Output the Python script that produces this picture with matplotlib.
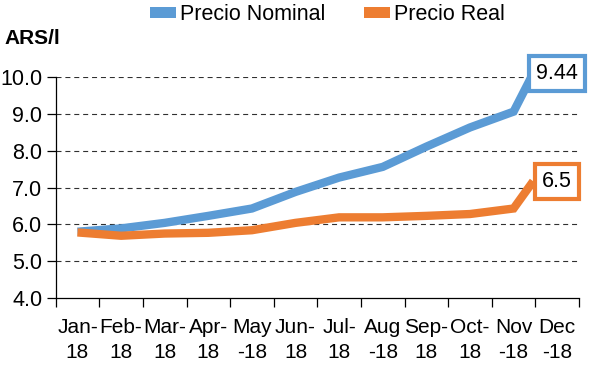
import numpy as np
import matplotlib
matplotlib.use("Agg")
import matplotlib.pyplot as plt
from matplotlib.patches import Patch

# ---- data ----
months_top = ["Jan-", "Feb-", "Mar-", "Apr-", "May", "Jun-", "Jul-", "Aug", "Sep-", "Oct-", "Nov", "Dec"]
months_bot = ["18", "18", "18", "18", "-18", "18", "18", "-18", "18", "18", "-18", "-18"]
nominal = [5.80, 5.89, 6.04, 6.23, 6.43, 6.88, 7.27, 7.56, 8.11, 8.63, 9.06, 10.10]
real = [5.78, 5.69, 5.75, 5.77, 5.84, 6.04, 6.19, 6.19, 6.23, 6.28, 6.43, 7.17]
# horizontal position of each point in category units (last point sits left of the Dec centre)
point_pos = [0, 1, 2, 3, 4, 5, 6, 7, 8, 9, 10, 10.45]
label_texts = ["9.44", "6.5"]
series_names = ["Precio Nominal", "Precio Real"]
y_ticks = [4.0, 5.0, 6.0, 7.0, 8.0, 9.0, 10.0]
unit_label = "ARS/l"

BLUE = "#5B9BD5"
ORANGE = "#ED7D31"
FONT = "Liberation Sans"

fig = plt.figure(figsize=(6.0, 3.82), dpi=100)
ax = fig.add_axes([0.0928, 0.2199, 0.8722, 0.5785])

n = len(months_top)
ax.set_xlim(-0.5, n - 0.5)
ax.set_ylim(4.0, 10.0)

ax.plot(point_pos, nominal, color=BLUE, lw=6.0, solid_capstyle="butt",
        solid_joinstyle="miter", zorder=3, clip_on=False)
ax.plot(point_pos, real, color=ORANGE, lw=6.0, solid_capstyle="butt",
        solid_joinstyle="miter", zorder=4, clip_on=False)

# data labels (boxed, to the right of the last points)
for vals, txt, col in [(nominal, label_texts[0], BLUE), (real, label_texts[1], ORANGE)]:
    ax.annotate(txt, xy=(n - 1, vals[-1]), xycoords="data", annotation_clip=False,
                ha="center", va="center", fontsize=15.5, family=FONT, color="black",
                bbox=dict(boxstyle="square,pad=0.32", fc="white", ec=col, lw=3.0),
                zorder=6)

# grid
for yv in y_ticks[1:]:
    ax.axhline(yv, color="#303030", lw=0.8, ls=(0, (4.5, 3.5)), zorder=1)

for s in ["top", "right"]:
    ax.spines[s].set_visible(False)
for s in ["left", "bottom"]:
    ax.spines[s].set_color("black")
    ax.spines[s].set_linewidth(0.9)

ax.set_yticks(y_ticks)
ax.set_yticklabels([f"{v:.1f}" for v in y_ticks], fontsize=15.5, family=FONT)
ax.tick_params(axis="y", direction="out", length=6.5, width=0.9, pad=3)

ax.set_xticks(np.arange(-0.5, n, 1.0))
ax.set_xticklabels([])
ax.tick_params(axis="x", which="major", direction="out", length=6.5, width=0.9)
ax.set_xticks(np.arange(n), minor=True)
ax.set_xticklabels([f"{a}\n{b}" for a, b in zip(months_top, months_bot)], minor=True,
                   fontsize=15, family=FONT, linespacing=1.4)
ax.tick_params(axis="x", which="minor", length=0, pad=14.5)

fig.text(0.008, 0.898, unit_label, fontsize=15, fontweight="bold", family=FONT,
         ha="left", va="center")

handles = [Patch(facecolor=BLUE, edgecolor="none"), Patch(facecolor=ORANGE, edgecolor="none")]
fig.legend(handles, series_names, loc="center", bbox_to_anchor=(0.546, 0.962), ncol=2,
           frameon=False, prop={"family": FONT, "size": 15.5},
           handlelength=1.2, handleheight=0.4, handletextpad=0.2, columnspacing=1.8,
           borderpad=0, borderaxespad=0)

fig.savefig("out.png", dpi=100)
